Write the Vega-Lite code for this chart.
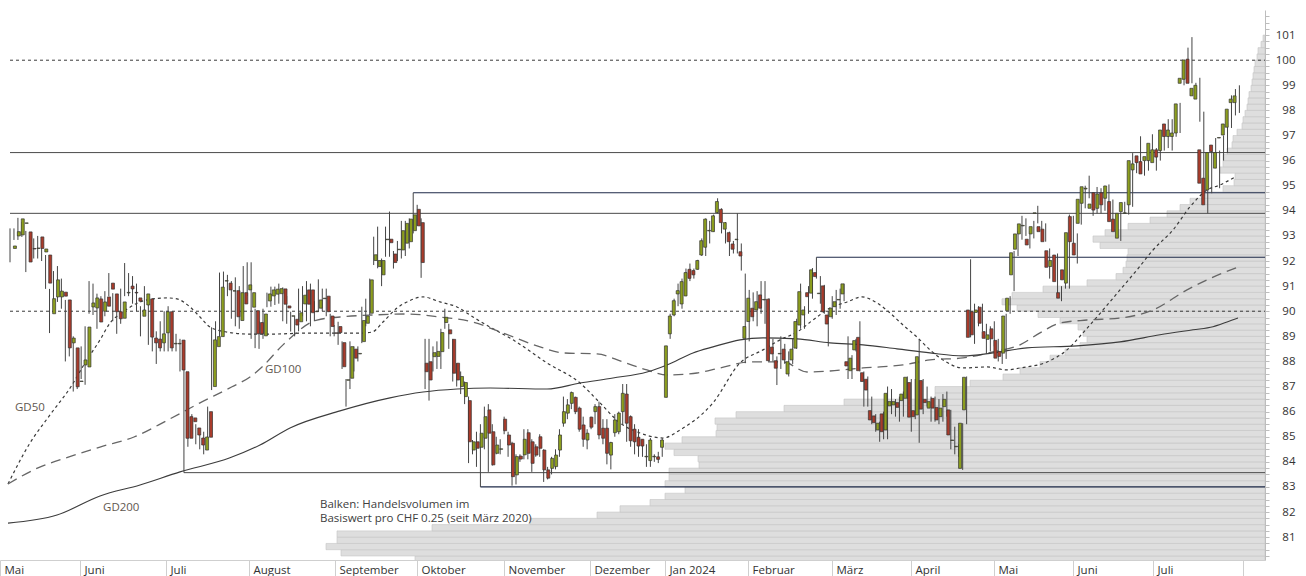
{
"$schema":"https://vega.github.io/schema/vega-lite/v6.json",
"autosize":"none",
"width":1265,"height":550,
"padding":{"left":0,"top":10,"right":41,"bottom":16},
"background":"#ffffff",
"config":{"view":{"stroke":null},"font":"Open Sans"},
"datasets":{
"volumen":[
{"p":80.0,"p2":80.25,"v":850},{"p":80.25,"p2":80.5,"v":924},{"p":80.5,"p2":80.75,"v":939},{"p":80.75,"p2":81.0,"v":928},{"p":81.0,"p2":81.25,"v":928},{"p":81.25,"p2":81.5,"v":833},{"p":81.5,"p2":81.75,"v":735},{"p":81.75,"p2":82.0,"v":668},{"p":82.0,"p2":82.25,"v":645},{"p":82.25,"p2":82.5,"v":615},{"p":82.5,"p2":82.75,"v":600},{"p":82.75,"p2":83.0,"v":580},{"p":83.0,"p2":83.25,"v":600},{"p":83.25,"p2":83.5,"v":596},{"p":83.5,"p2":83.75,"v":596},{"p":83.75,"p2":84.0,"v":566},{"p":84.0,"p2":84.25,"v":567},{"p":84.25,"p2":84.5,"v":591},{"p":84.5,"p2":84.75,"v":600},{"p":84.75,"p2":85.0,"v":583},{"p":85.0,"p2":85.25,"v":549},{"p":85.25,"p2":85.5,"v":548},{"p":85.5,"p2":85.75,"v":550},{"p":85.75,"p2":86.0,"v":529},{"p":86.0,"p2":86.25,"v":481},{"p":86.25,"p2":86.5,"v":421},{"p":86.5,"p2":86.75,"v":330},{"p":86.75,"p2":87.0,"v":330},{"p":87.0,"p2":87.25,"v":295},{"p":87.25,"p2":87.5,"v":262},{"p":87.5,"p2":87.75,"v":245},{"p":87.75,"p2":88.0,"v":225},{"p":88.0,"p2":88.25,"v":215},{"p":88.25,"p2":88.5,"v":200},{"p":88.5,"p2":88.75,"v":185},{"p":88.75,"p2":89.0,"v":178},{"p":89.0,"p2":89.25,"v":182},{"p":89.25,"p2":89.5,"v":187},{"p":89.5,"p2":89.75,"v":205},{"p":89.75,"p2":90.0,"v":227},{"p":90.0,"p2":90.25,"v":248},{"p":90.25,"p2":90.5,"v":263},{"p":90.5,"p2":90.75,"v":253},{"p":90.75,"p2":91.0,"v":222},{"p":91.0,"p2":91.25,"v":178},{"p":91.25,"p2":91.5,"v":149},{"p":91.5,"p2":91.75,"v":142},{"p":91.75,"p2":92.0,"v":139},{"p":92.0,"p2":92.25,"v":138},{"p":92.25,"p2":92.5,"v":137},{"p":92.5,"p2":92.75,"v":165},{"p":92.75,"p2":93.0,"v":172},{"p":93.0,"p2":93.25,"v":160},{"p":93.25,"p2":93.5,"v":137},{"p":93.5,"p2":93.75,"v":115},{"p":93.75,"p2":94.0,"v":98},{"p":94.0,"p2":94.25,"v":85},{"p":94.25,"p2":94.5,"v":75},{"p":94.5,"p2":94.75,"v":62},{"p":94.75,"p2":95.0,"v":42},{"p":95.0,"p2":95.25,"v":31},{"p":95.25,"p2":95.5,"v":30},{"p":95.5,"p2":95.75,"v":45},{"p":95.75,"p2":96.0,"v":42},{"p":96.0,"p2":96.25,"v":42},{"p":96.25,"p2":96.5,"v":38},{"p":96.5,"p2":96.75,"v":33},{"p":96.75,"p2":97.0,"v":32},{"p":97.0,"p2":97.25,"v":28},{"p":97.25,"p2":97.5,"v":23},{"p":97.5,"p2":97.75,"v":22},{"p":97.75,"p2":98.0,"v":20},{"p":98.0,"p2":98.25,"v":18},{"p":98.25,"p2":98.5,"v":17},{"p":98.5,"p2":98.75,"v":16},{"p":98.75,"p2":99.0,"v":14},{"p":99.0,"p2":99.25,"v":13},{"p":99.25,"p2":99.5,"v":12},{"p":99.5,"p2":99.75,"v":11},{"p":99.75,"p2":100.0,"v":10},{"p":100.0,"p2":100.25,"v":8},{"p":100.25,"p2":100.5,"v":7},{"p":100.5,"p2":100.75,"v":4},{"p":100.75,"p2":101.0,"v":2}
],
"linien":[
{"p":100,"t1":0,"t2":317.48,"art":"rund"},{"p":90,"t1":0,"t2":317.48,"art":"rund"},
{"p":96.32,"t1":0,"t2":317.48,"art":"primär"},{"p":93.9,"t1":0,"t2":317.48,"art":"primär"},{"p":83.57,"t1":44,"t2":317.48,"art":"primär"},
{"p":94.72,"t1":102,"t2":317.48,"art":"sekundär"},{"p":92.15,"t1":204,"t2":317.48,"art":"sekundär"},{"p":83.0,"t1":119,"t2":317.48,"art":"sekundär"}
],
"gd":[
{"ma":"GD50","t":-0.51,"v":83.12},{"ma":"GD50","t":5.06,"v":84.75},{"ma":"GD50","t":10.12,"v":85.87},{"ma":"GD50","t":15.68,"v":87.06},{"ma":"GD50","t":18.97,"v":87.94},{"ma":"GD50","t":22.77,"v":88.86},{"ma":"GD50","t":25.3,"v":89.53},{"ma":"GD50","t":28.59,"v":89.97},{"ma":"GD50","t":32.89,"v":90.37},{"ma":"GD50","t":36.17,"v":90.49},{"ma":"GD50","t":39.72,"v":90.53},{"ma":"GD50","t":42.25,"v":90.49},{"ma":"GD50","t":45.54,"v":90.17},{"ma":"GD50","t":48.07,"v":89.77},{"ma":"GD50","t":50.6,"v":89.37},{"ma":"GD50","t":54.9,"v":89.17},{"ma":"GD50","t":60.71,"v":89.09},{"ma":"GD50","t":66.53,"v":89.09},{"ma":"GD50","t":75.13,"v":89.13},{"ma":"GD50","t":83.48,"v":89.13},{"ma":"GD50","t":88.54,"v":89.13},{"ma":"GD50","t":91.58,"v":89.17},{"ma":"GD50","t":94.36,"v":89.57},{"ma":"GD50","t":97.9,"v":90.13},{"ma":"GD50","t":100.43,"v":90.37},{"ma":"GD50","t":104.48,"v":90.57},{"ma":"GD50","t":108.78,"v":90.37},{"ma":"GD50","t":113.08,"v":90.17},{"ma":"GD50","t":117.13,"v":89.77},{"ma":"GD50","t":121.43,"v":89.37},{"ma":"GD50","t":127.24,"v":88.86},{"ma":"GD50","t":135.85,"v":87.94},{"ma":"GD50","t":144.19,"v":87.14},{"ma":"GD50","t":149.25,"v":86.35},{"ma":"GD50","t":154.31,"v":85.55},{"ma":"GD50","t":159.37,"v":85.15},{"ma":"GD50","t":165.19,"v":84.95},{"ma":"GD50","t":169.49,"v":85.27},{"ma":"GD50","t":177.84,"v":86.35},{"ma":"GD50","t":184.67,"v":87.94},{"ma":"GD50","t":190.49,"v":88.46},{"ma":"GD50","t":194.79,"v":88.86},{"ma":"GD50","t":199.09,"v":89.17},{"ma":"GD50","t":203.14,"v":89.65},{"ma":"GD50","t":207.44,"v":90.13},{"ma":"GD50","t":211.74,"v":90.37},{"ma":"GD50","t":215.53,"v":90.57},{"ma":"GD50","t":219.33,"v":90.33},{"ma":"GD50","t":222.62,"v":89.93},{"ma":"GD50","t":225.91,"v":89.45},{"ma":"GD50","t":229.45,"v":88.97},{"ma":"GD50","t":232.74,"v":88.46},{"ma":"GD50","t":236.02,"v":88.06},{"ma":"GD50","t":241.08,"v":87.74},{"ma":"GD50","t":247.15,"v":87.78},{"ma":"GD50","t":252.21,"v":87.66},{"ma":"GD50","t":255.5,"v":87.74},{"ma":"GD50","t":262.33,"v":87.98},{"ma":"GD50","t":267.39,"v":88.46},{"ma":"GD50","t":271.44,"v":89.14},{"ma":"GD50","t":276.5,"v":90.05},{"ma":"GD50","t":280.8,"v":90.85},{"ma":"GD50","t":285.11,"v":91.65},{"ma":"GD50","t":289.15,"v":92.44},{"ma":"GD50","t":294.21,"v":93.24},{"ma":"GD50","t":298.51,"v":94.16},{"ma":"GD50","t":302.81,"v":94.83},{"ma":"GD50","t":306.1,"v":95.03},{"ma":"GD50","t":309.89,"v":95.35},
{"ma":"GD100","t":-0.51,"v":83.12},{"ma":"GD100","t":7.08,"v":83.76},{"ma":"GD100","t":14.93,"v":84.2},{"ma":"GD100","t":22.77,"v":84.59},{"ma":"GD100","t":31.37,"v":84.99},{"ma":"GD100","t":39.97,"v":85.67},{"ma":"GD100","t":48.07,"v":86.35},{"ma":"GD100","t":56.17,"v":86.99},{"ma":"GD100","t":60.71,"v":87.38},{"ma":"GD100","t":63.75,"v":87.78},{"ma":"GD100","t":69.06,"v":88.66},{"ma":"GD100","t":77.66,"v":89.65},{"ma":"GD100","t":83.48,"v":89.77},{"ma":"GD100","t":91.83,"v":89.85},{"ma":"GD100","t":100.43,"v":89.89},{"ma":"GD100","t":108.78,"v":89.77},{"ma":"GD100","t":117.13,"v":89.57},{"ma":"GD100","t":123.96,"v":89.18},{"ma":"GD100","t":134.08,"v":88.58},{"ma":"GD100","t":139.89,"v":88.34},{"ma":"GD100","t":148.49,"v":88.3},{"ma":"GD100","t":155.07,"v":87.98},{"ma":"GD100","t":161.14,"v":87.66},{"ma":"GD100","t":166.2,"v":87.46},{"ma":"GD100","t":173.79,"v":87.54},{"ma":"GD100","t":179.61,"v":87.74},{"ma":"GD100","t":187.2,"v":87.98},{"ma":"GD100","t":195.55,"v":87.98},{"ma":"GD100","t":201.62,"v":87.58},{"ma":"GD100","t":207.44,"v":87.62},{"ma":"GD100","t":215.79,"v":87.74},{"ma":"GD100","t":220.09,"v":87.78},{"ma":"GD100","t":225.91,"v":87.86},{"ma":"GD100","t":232.74,"v":88.06},{"ma":"GD100","t":241.08,"v":88.14},{"ma":"GD100","t":248.67,"v":88.38},{"ma":"GD100","t":255.5,"v":88.66},{"ma":"GD100","t":260.56,"v":89.14},{"ma":"GD100","t":265.62,"v":89.53},{"ma":"GD100","t":272.45,"v":89.65},{"ma":"GD100","t":280.8,"v":89.73},{"ma":"GD100","t":289.15,"v":90.05},{"ma":"GD100","t":297.75,"v":90.85},{"ma":"GD100","t":302.81,"v":91.25},{"ma":"GD100","t":310.65,"v":91.76},
{"ma":"GD200","t":-0.51,"v":81.56},{"ma":"GD200","t":11.89,"v":81.88},{"ma":"GD200","t":22.77,"v":82.64},{"ma":"GD200","t":32.89,"v":83.08},{"ma":"GD200","t":43.01,"v":83.6},{"ma":"GD200","t":55.65,"v":84.16},{"ma":"GD200","t":63.24,"v":84.67},{"ma":"GD200","t":70.83,"v":85.35},{"ma":"GD200","t":83.48,"v":86.03},{"ma":"GD200","t":96.13,"v":86.55},{"ma":"GD200","t":104.48,"v":86.78},{"ma":"GD200","t":113.08,"v":86.9},{"ma":"GD200","t":121.43,"v":86.94},{"ma":"GD200","t":135.85,"v":86.9},{"ma":"GD200","t":144.19,"v":87.14},{"ma":"GD200","t":152.54,"v":87.34},{"ma":"GD200","t":161.14,"v":87.58},{"ma":"GD200","t":166.2,"v":87.86},{"ma":"GD200","t":172.78,"v":88.34},{"ma":"GD200","t":177.84,"v":88.58},{"ma":"GD200","t":184.67,"v":88.86},{"ma":"GD200","t":190.49,"v":88.94},{"ma":"GD200","t":199.09,"v":88.9},{"ma":"GD200","t":207.44,"v":88.74},{"ma":"GD200","t":215.79,"v":88.66},{"ma":"GD200","t":224.39,"v":88.5},{"ma":"GD200","t":232.74,"v":88.34},{"ma":"GD200","t":241.08,"v":88.22},{"ma":"GD200","t":248.67,"v":88.34},{"ma":"GD200","t":257.27,"v":88.54},{"ma":"GD200","t":269.92,"v":88.62},{"ma":"GD200","t":280.8,"v":88.78},{"ma":"GD200","t":290.92,"v":89.06},{"ma":"GD200","t":299.27,"v":89.26},{"ma":"GD200","t":304.33,"v":89.38},{"ma":"GD200","t":307.87,"v":89.57},{"ma":"GD200","t":310.65,"v":89.73}
],
"texte":[
{"t":1.26,"p":86.15,"text":"GD50","art":"gd"},{"t":64.5,"p":87.66,"text":"GD100","art":"gd"},{"t":23.53,"p":82.16,"text":"GD200","art":"gd"},
{"t":78.42,"p":82.28,"text":"Balken: Handelsvolumen im","art":"hinweis"},{"t":78.42,"p":81.71,"text":"Basiswert pro CHF 0.25 (seit März 2020)","art":"hinweis"}
],
"kerzen":[
{"t":0,"o":92.5,"h":93.3,"l":91.95,"c":92.6},{"t":1,"o":93.0,"h":93.3,"l":92.84,"c":93.17},{"t":2,"o":93.04,"h":93.72,"l":92.84,"c":93.68},{"t":3,"o":93.5,"h":93.56,"l":92.96,"c":93.52},{"t":4,"o":93.16,"h":93.2,"l":91.56,"c":91.96},{"t":5,"o":92.5,"h":93.0,"l":92.0,"c":92.48},{"t":6,"o":92.5,"h":92.9,"l":92.1,"c":92.52},{"t":7,"o":92.96,"h":93.0,"l":92.1,"c":92.5},{"t":8,"o":92.36,"h":92.8,"l":92.0,"c":92.48},{"t":9,"o":92.24,"h":92.24,"l":90.89,"c":91.12},
{"t":10,"o":89.9,"h":90.89,"l":89.13,"c":90.5},{"t":11,"o":90.57,"h":91.6,"l":90.13,"c":91.25},{"t":12,"o":90.57,"h":91.8,"l":90.37,"c":90.8},{"t":13,"o":90.76,"h":91.3,"l":90.1,"c":90.6},{"t":14,"o":90.45,"h":90.45,"l":88.0,"c":88.54},{"t":15,"o":88.74,"h":89.4,"l":88.2,"c":88.93},{"t":16,"o":88.54,"h":89.0,"l":86.8,"c":86.99},{"t":17,"o":87.2,"h":87.7,"l":86.9,"c":87.22},{"t":18,"o":87.86,"h":88.6,"l":87.3,"c":88.06},{"t":19,"o":87.78,"h":89.4,"l":87.07,"c":89.37},
{"t":20,"o":90.17,"h":91.2,"l":89.9,"c":90.33},{"t":21,"o":90.13,"h":91.1,"l":89.85,"c":90.53},{"t":22,"o":90.49,"h":90.7,"l":89.3,"c":89.57},{"t":23,"o":90.0,"h":90.6,"l":89.7,"c":90.37},{"t":24,"o":90.57,"h":90.8,"l":89.8,"c":90.2},{"t":25,"o":91.12,"h":91.52,"l":90.6,"c":90.88},{"t":26,"o":90.69,"h":90.72,"l":89.6,"c":89.98},{"t":27,"o":89.98,"h":90.4,"l":89.1,"c":89.7},{"t":28,"o":89.72,"h":90.9,"l":89.5,"c":90.37},{"t":29,"o":90.73,"h":91.92,"l":90.6,"c":90.75},
{"t":30,"o":91.0,"h":91.52,"l":90.6,"c":90.89},{"t":31,"o":90.75,"h":91.4,"l":90.3,"c":90.73},{"t":32,"o":90.53,"h":91.1,"l":90.0,"c":90.4},{"t":33,"o":89.8,"h":90.2,"l":89.0,"c":90.05},{"t":34,"o":90.25,"h":91.0,"l":90.0,"c":90.69},{"t":35,"o":90.49,"h":90.5,"l":88.66,"c":88.97},{"t":36,"o":88.93,"h":89.3,"l":88.4,"c":88.74},{"t":37,"o":88.89,"h":89.2,"l":87.9,"c":88.54},{"t":38,"o":88.74,"h":89.6,"l":88.4,"c":89.1},{"t":39,"o":89.14,"h":90.0,"l":88.4,"c":89.98},
{"t":40,"o":89.98,"h":90.2,"l":88.4,"c":88.54},{"t":41,"o":88.7,"h":89.5,"l":88.4,"c":88.72},{"t":42,"o":88.7,"h":89.1,"l":88.4,"c":88.72},{"t":43,"o":88.85,"h":88.9,"l":87.6,"c":87.66},{"t":44,"o":87.59,"h":87.99,"l":83.57,"c":84.94},{"t":45,"o":85.8,"h":86.07,"l":84.6,"c":84.94},{"t":46,"o":85.75,"h":85.9,"l":85.1,"c":85.6},{"t":47,"o":85.35,"h":85.5,"l":84.7,"c":85.07},{"t":48,"o":84.95,"h":85.1,"l":84.5,"c":84.67},{"t":49,"o":84.47,"h":85.2,"l":84.3,"c":84.99},
{"t":50,"o":86.0,"h":86.2,"l":84.9,"c":84.98},{"t":51,"o":87.0,"h":89.36,"l":86.86,"c":88.86},{"t":52,"o":88.59,"h":89.6,"l":88.3,"c":88.99},{"t":53,"o":88.99,"h":91.54,"l":88.99,"c":90.96},{"t":54,"o":91.2,"h":91.58,"l":90.85,"c":91.22},{"t":55,"o":91.12,"h":91.45,"l":90.6,"c":90.85},{"t":56,"o":90.8,"h":91.2,"l":89.7,"c":90.82},{"t":57,"o":90.82,"h":91.35,"l":89.4,"c":89.78},{"t":58,"o":89.63,"h":91.0,"l":89.3,"c":90.74},{"t":59,"o":90.74,"h":91.8,"l":89.9,"c":90.29},
{"t":60,"o":90.85,"h":91.95,"l":90.6,"c":91.05},{"t":61,"o":90.16,"h":91.95,"l":88.9,"c":90.74},{"t":62,"o":90.02,"h":90.1,"l":88.53,"c":89.1},{"t":63,"o":89.55,"h":89.6,"l":88.5,"c":89.1},{"t":64,"o":89.02,"h":90.1,"l":88.9,"c":89.89},{"t":65,"o":90.41,"h":90.74,"l":90.16,"c":90.69},{"t":66,"o":90.61,"h":90.98,"l":90.18,"c":90.85},{"t":67,"o":90.68,"h":90.98,"l":90.25,"c":90.88},{"t":68,"o":90.7,"h":91.1,"l":90.3,"c":90.9},{"t":69,"o":90.89,"h":90.95,"l":89.6,"c":90.28},
{"t":70,"o":90.21,"h":90.6,"l":89.5,"c":90.13},{"t":71,"o":89.8,"h":89.98,"l":89.19,"c":89.82},{"t":72,"o":89.68,"h":89.8,"l":89.0,"c":89.45},{"t":73,"o":89.58,"h":90.9,"l":89.2,"c":89.94},{"t":74,"o":90.29,"h":91.0,"l":89.8,"c":90.64},{"t":75,"o":90.85,"h":91.2,"l":89.6,"c":90.28},{"t":76,"o":90.85,"h":91.1,"l":89.4,"c":89.94},{"t":77,"o":89.98,"h":90.4,"l":89.6,"c":90.0},{"t":78,"o":90.12,"h":91.27,"l":90.0,"c":90.45},{"t":79,"o":90.5,"h":90.9,"l":90.0,"c":90.52},
{"t":80,"o":90.6,"h":90.9,"l":89.8,"c":89.98},{"t":81,"o":89.81,"h":89.9,"l":89.0,"c":89.39},{"t":82,"o":89.14,"h":89.45,"l":89.0,"c":89.12},{"t":83,"o":89.39,"h":89.58,"l":88.66,"c":89.15},{"t":84,"o":88.75,"h":88.8,"l":87.7,"c":87.79},{"t":85,"o":87.25,"h":87.3,"l":86.2,"c":87.27},{"t":86,"o":87.33,"h":88.8,"l":86.9,"c":88.59},{"t":87,"o":88.49,"h":88.6,"l":87.6,"c":88.13},{"t":88,"o":88.3,"h":88.6,"l":88.0,"c":88.32},{"t":89,"o":88.79,"h":90.18,"l":88.73,"c":89.63},
{"t":90,"o":89.52,"h":90.5,"l":89.4,"c":89.81},{"t":91,"o":89.92,"h":91.3,"l":89.85,"c":91.25},{"t":92,"o":92.02,"h":92.97,"l":91.84,"c":92.25},{"t":93,"o":91.78,"h":93.37,"l":91.71,"c":92.02},{"t":94,"o":91.45,"h":92.1,"l":91.0,"c":92.02},{"t":95,"o":92.85,"h":93.37,"l":92.17,"c":92.87},{"t":96,"o":92.87,"h":93.97,"l":92.17,"c":92.73},{"t":97,"o":92.28,"h":92.4,"l":91.7,"c":91.94},{"t":98,"o":92.45,"h":92.8,"l":92.0,"c":92.47},{"t":99,"o":92.44,"h":93.6,"l":92.1,"c":93.21},
{"t":100,"o":92.71,"h":93.6,"l":92.2,"c":93.5},{"t":101,"o":92.77,"h":93.7,"l":92.5,"c":93.67},{"t":102,"o":93.21,"h":94.72,"l":93.1,"c":93.84},{"t":103,"o":94.06,"h":94.24,"l":93.4,"c":93.4},{"t":104,"o":93.53,"h":93.7,"l":91.33,"c":91.94},{"t":105,"o":87.93,"h":88.9,"l":86.9,"c":87.59},{"t":106,"o":87.99,"h":88.9,"l":86.44,"c":87.26},{"t":107,"o":88.19,"h":88.6,"l":87.6,"c":88.35},{"t":108,"o":88.2,"h":88.8,"l":87.7,"c":88.4},{"t":109,"o":88.39,"h":89.3,"l":87.7,"c":89.15},
{"t":110,"o":89.55,"h":90.1,"l":89.3,"c":89.76},{"t":111,"o":89.26,"h":89.5,"l":88.5,"c":89.1},{"t":112,"o":88.88,"h":88.9,"l":87.2,"c":87.53},{"t":113,"o":87.93,"h":87.93,"l":87.0,"c":87.26},{"t":114,"o":87.0,"h":87.6,"l":86.7,"c":87.4},{"t":115,"o":86.6,"h":87.2,"l":86.3,"c":87.16},{"t":116,"o":86.44,"h":86.6,"l":83.95,"c":84.8},{"t":117,"o":84.47,"h":84.87,"l":84.3,"c":84.8},{"t":118,"o":84.8,"h":85.2,"l":83.8,"c":84.54},{"t":119,"o":84.58,"h":85.5,"l":83.0,"c":85.14},
{"t":120,"o":84.94,"h":86.2,"l":84.5,"c":85.8},{"t":121,"o":86.07,"h":86.3,"l":83.6,"c":85.14},{"t":122,"o":85.2,"h":85.5,"l":83.85,"c":83.88},{"t":123,"o":84.34,"h":85.0,"l":84.3,"c":84.67},{"t":124,"o":84.5,"h":84.9,"l":84.3,"c":84.52},{"t":125,"o":85.7,"h":85.8,"l":85.1,"c":85.24},{"t":126,"o":85.07,"h":85.2,"l":84.2,"c":84.67},{"t":127,"o":84.74,"h":84.8,"l":83.05,"c":83.41},{"t":128,"o":83.48,"h":84.3,"l":83.1,"c":84.21},{"t":129,"o":84.23,"h":84.3,"l":84.0,"c":84.11},
{"t":130,"o":84.28,"h":85.3,"l":84.1,"c":84.9},{"t":131,"o":85.16,"h":85.3,"l":84.1,"c":84.34},{"t":132,"o":84.8,"h":84.9,"l":83.6,"c":83.94},{"t":133,"o":84.6,"h":84.7,"l":84.2,"c":84.27},{"t":134,"o":85.0,"h":85.1,"l":84.2,"c":84.54},{"t":135,"o":84.47,"h":84.5,"l":83.2,"c":83.68},{"t":136,"o":83.68,"h":83.8,"l":83.3,"c":83.35},{"t":137,"o":83.74,"h":84.2,"l":83.5,"c":84.14},{"t":138,"o":83.81,"h":84.5,"l":83.7,"c":84.27},{"t":139,"o":84.47,"h":85.3,"l":84.2,"c":85.07},
{"t":140,"o":85.54,"h":86.6,"l":85.4,"c":86.0},{"t":141,"o":85.94,"h":86.5,"l":85.7,"c":86.27},{"t":142,"o":86.33,"h":86.8,"l":86.1,"c":86.76},{"t":143,"o":86.57,"h":86.6,"l":85.9,"c":86.0},{"t":144,"o":86.14,"h":86.2,"l":85.2,"c":85.3},{"t":145,"o":85.47,"h":85.8,"l":84.6,"c":84.9},{"t":146,"o":84.87,"h":85.3,"l":84.5,"c":85.14},{"t":147,"o":85.78,"h":85.8,"l":85.3,"c":85.38},{"t":148,"o":86.0,"h":86.3,"l":85.5,"c":86.2},{"t":149,"o":86.2,"h":86.4,"l":84.9,"c":85.07},
{"t":150,"o":85.34,"h":85.7,"l":84.7,"c":84.94},{"t":151,"o":85.34,"h":85.7,"l":83.9,"c":84.34},{"t":152,"o":84.27,"h":84.8,"l":83.7,"c":84.77},{"t":153,"o":85.16,"h":85.9,"l":85.0,"c":85.67},{"t":154,"o":85.2,"h":86.0,"l":85.1,"c":85.94},{"t":155,"o":86.0,"h":87.1,"l":85.5,"c":86.73},{"t":156,"o":86.7,"h":87.1,"l":84.8,"c":85.54},{"t":157,"o":85.8,"h":85.85,"l":84.6,"c":84.84},{"t":158,"o":85.3,"h":85.5,"l":84.3,"c":84.8},{"t":159,"o":84.98,"h":85.3,"l":84.2,"c":84.63},
{"t":160,"o":84.9,"h":84.9,"l":84.2,"c":84.63},{"t":161,"o":84.2,"h":84.7,"l":83.8,"c":84.22},{"t":162,"o":84.05,"h":84.95,"l":83.8,"c":84.87},{"t":163,"o":84.2,"h":84.3,"l":84.0,"c":84.22},{"t":164,"o":84.2,"h":84.4,"l":83.95,"c":84.1},{"t":165,"o":84.58,"h":84.95,"l":84.2,"c":84.87},{"t":166,"o":86.57,"h":88.62,"l":86.57,"c":88.62},{"t":167,"o":89.1,"h":89.9,"l":88.9,"c":89.81},{"t":168,"o":89.85,"h":90.5,"l":89.8,"c":90.42},{"t":169,"o":90.69,"h":91.1,"l":90.2,"c":90.82},
{"t":170,"o":90.29,"h":91.3,"l":90.1,"c":91.18},{"t":171,"o":90.61,"h":91.7,"l":90.6,"c":91.54},{"t":172,"o":91.67,"h":91.9,"l":91.2,"c":91.31},{"t":173,"o":91.62,"h":91.7,"l":91.3,"c":91.45},{"t":174,"o":91.67,"h":92.05,"l":91.65,"c":92.02},{"t":175,"o":92.24,"h":92.9,"l":92.2,"c":92.81},{"t":176,"o":92.55,"h":93.7,"l":92.2,"c":93.67},{"t":177,"o":93.2,"h":93.6,"l":92.7,"c":93.22},{"t":178,"o":93.17,"h":93.85,"l":93.17,"c":93.8},{"t":179,"o":93.93,"h":94.5,"l":93.9,"c":94.37},
{"t":180,"o":94.06,"h":94.1,"l":93.1,"c":93.53},{"t":181,"o":93.27,"h":93.55,"l":92.7,"c":93.53},{"t":182,"o":93.13,"h":93.17,"l":92.2,"c":92.77},{"t":183,"o":92.68,"h":92.8,"l":92.3,"c":92.47},{"t":184,"o":92.85,"h":93.9,"l":92.3,"c":92.87},{"t":185,"o":92.37,"h":92.7,"l":91.62,"c":92.2},{"t":186,"o":88.92,"h":91.5,"l":87.93,"c":89.39},{"t":187,"o":89.59,"h":90.85,"l":88.8,"c":90.52},{"t":188,"o":90.12,"h":90.75,"l":89.6,"c":89.78},{"t":189,"o":90.05,"h":90.8,"l":89.4,"c":90.38},
{"t":190,"o":90.65,"h":91.2,"l":89.9,"c":90.12},{"t":191,"o":90.45,"h":91.2,"l":89.5,"c":90.47},{"t":192,"o":90.48,"h":90.52,"l":87.99,"c":88.03},{"t":193,"o":88.57,"h":88.9,"l":88.0,"c":88.3},{"t":194,"o":88.03,"h":88.2,"l":87.06,"c":87.73},{"t":195,"o":88.3,"h":89.0,"l":87.7,"c":88.32},{"t":196,"o":88.49,"h":88.7,"l":87.9,"c":88.06},{"t":197,"o":87.5,"h":88.4,"l":87.4,"c":87.99},{"t":198,"o":88.06,"h":88.9,"l":87.9,"c":88.49},{"t":199,"o":88.53,"h":89.7,"l":88.5,"c":89.59},
{"t":200,"o":89.45,"h":91.1,"l":89.3,"c":90.78},{"t":201,"o":89.85,"h":90.2,"l":89.3,"c":90.05},{"t":202,"o":90.74,"h":91.0,"l":89.9,"c":90.58},{"t":203,"o":90.72,"h":91.72,"l":90.5,"c":91.65},{"t":204,"o":91.54,"h":92.15,"l":91.3,"c":91.38},{"t":205,"o":90.7,"h":91.4,"l":90.3,"c":90.72},{"t":206,"o":91.01,"h":91.05,"l":89.9,"c":89.98},{"t":207,"o":89.85,"h":90.0,"l":88.6,"c":89.49},{"t":208,"o":89.78,"h":90.6,"l":89.7,"c":90.12},{"t":209,"o":90.18,"h":90.85,"l":89.85,"c":90.38},
{"t":210,"o":90.45,"h":90.9,"l":90.1,"c":90.47},{"t":211,"o":90.69,"h":91.1,"l":90.4,"c":91.09},{"t":212,"o":87.99,"h":89.0,"l":87.3,"c":87.82},{"t":213,"o":87.63,"h":88.25,"l":87.3,"c":88.13},{"t":214,"o":88.46,"h":88.9,"l":88.4,"c":88.83},{"t":215,"o":88.96,"h":89.6,"l":87.6,"c":87.63},{"t":216,"o":87.55,"h":87.6,"l":86.2,"c":87.2},{"t":217,"o":87.29,"h":87.4,"l":86.2,"c":86.86},{"t":218,"o":86.04,"h":86.6,"l":85.5,"c":85.67},{"t":219,"o":85.83,"h":85.9,"l":85.2,"c":85.56},
{"t":220,"o":85.27,"h":85.6,"l":84.8,"c":85.54},{"t":221,"o":85.91,"h":86.0,"l":84.9,"c":85.2},{"t":222,"o":85.27,"h":87.0,"l":84.9,"c":86.73},{"t":223,"o":86.23,"h":86.9,"l":85.9,"c":86.4},{"t":224,"o":86.27,"h":86.5,"l":85.8,"c":86.4},{"t":225,"o":86.36,"h":86.6,"l":85.6,"c":86.17},{"t":226,"o":86.44,"h":86.8,"l":85.8,"c":86.7},{"t":227,"o":86.53,"h":87.4,"l":86.5,"c":87.37},{"t":228,"o":87.16,"h":87.3,"l":85.2,"c":85.78},{"t":229,"o":86.04,"h":87.3,"l":85.7,"c":85.8},
{"t":230,"o":85.87,"h":88.88,"l":84.76,"c":88.19},{"t":231,"o":87.24,"h":87.3,"l":85.9,"c":86.1},{"t":232,"o":86.49,"h":87.0,"l":86.2,"c":86.36},{"t":233,"o":86.14,"h":86.6,"l":85.6,"c":86.4},{"t":234,"o":86.53,"h":86.6,"l":85.6,"c":86.14},{"t":235,"o":86.17,"h":86.5,"l":85.5,"c":85.67},{"t":236,"o":85.8,"h":86.7,"l":85.6,"c":86.14},{"t":237,"o":86.2,"h":86.8,"l":85.8,"c":86.49},{"t":238,"o":86.07,"h":86.07,"l":84.5,"c":85.07},{"t":239,"o":84.85,"h":85.4,"l":84.3,"c":84.87},
{"t":240,"o":84.6,"h":84.7,"l":84.2,"c":84.62},{"t":241,"o":83.74,"h":85.54,"l":83.68,"c":85.54},{"t":242,"o":86.07,"h":87.4,"l":85.5,"c":87.37},{"t":243,"o":90.05,"h":92.07,"l":88.96,"c":88.96},{"t":244,"o":89.98,"h":90.3,"l":88.7,"c":89.06},{"t":245,"o":89.95,"h":90.2,"l":89.4,"c":90.05},{"t":246,"o":90.16,"h":90.3,"l":89.2,"c":89.52},{"t":247,"o":89.19,"h":89.5,"l":88.3,"c":88.92},{"t":248,"o":88.88,"h":89.4,"l":88.4,"c":89.06},{"t":249,"o":89.3,"h":89.6,"l":88.6,"c":88.9},
{"t":250,"o":88.84,"h":88.9,"l":88.0,"c":88.13},{"t":251,"o":88.4,"h":88.5,"l":87.9,"c":88.2},{"t":252,"o":88.33,"h":89.9,"l":88.1,"c":89.81},{"t":253,"o":90.02,"h":90.6,"l":89.9,"c":90.52},{"t":254,"o":91.45,"h":92.4,"l":90.8,"c":92.33},{"t":255,"o":92.47,"h":93.2,"l":92.2,"c":93.08},{"t":256,"o":93.08,"h":93.8,"l":92.85,"c":93.48},{"t":257,"o":93.4,"h":93.7,"l":93.0,"c":93.42},{"t":258,"o":92.87,"h":93.2,"l":92.5,"c":92.64},{"t":259,"o":93.08,"h":93.6,"l":92.9,"c":93.37},
{"t":260,"o":93.9,"h":94.2,"l":93.5,"c":93.92},{"t":261,"o":93.37,"h":93.6,"l":93.0,"c":93.17},{"t":262,"o":93.27,"h":93.5,"l":92.77,"c":92.77},{"t":263,"o":92.41,"h":92.5,"l":91.3,"c":91.75},{"t":264,"o":91.78,"h":92.1,"l":91.6,"c":92.02},{"t":265,"o":92.24,"h":92.3,"l":90.68,"c":91.18},{"t":266,"o":90.74,"h":91.0,"l":90.4,"c":90.52},{"t":267,"o":91.65,"h":91.85,"l":90.9,"c":91.25},{"t":268,"o":91.12,"h":93.85,"l":90.9,"c":93.13},{"t":269,"o":93.77,"h":93.8,"l":92.6,"c":92.77},
{"t":270,"o":92.71,"h":93.1,"l":91.9,"c":92.24},{"t":271,"o":93.5,"h":94.55,"l":93.45,"c":94.46},{"t":272,"o":94.3,"h":95.0,"l":94.1,"c":94.96},{"t":273,"o":94.87,"h":95.4,"l":94.5,"c":94.9},{"t":274,"o":94.1,"h":94.75,"l":93.8,"c":94.27},{"t":275,"o":94.72,"h":94.95,"l":93.9,"c":94.03},{"t":276,"o":94.1,"h":94.9,"l":93.9,"c":94.67},{"t":277,"o":94.72,"h":95.0,"l":94.0,"c":94.24},{"t":278,"o":94.5,"h":95.05,"l":94.3,"c":94.99},{"t":279,"o":94.37,"h":94.45,"l":93.2,"c":93.57},
{"t":280,"o":93.67,"h":93.7,"l":93.1,"c":93.17},{"t":281,"o":92.91,"h":93.95,"l":92.8,"c":93.9},{"t":282,"o":93.97,"h":94.36,"l":93.9,"c":94.33},{"t":283,"o":93.9,"h":94.7,"l":93.85,"c":93.92},{"t":284,"o":94.24,"h":96.3,"l":94.16,"c":96.0},{"t":285,"o":95.63,"h":95.95,"l":95.5,"c":95.87},{"t":286,"o":96.19,"h":96.97,"l":95.5,"c":95.92},{"t":287,"o":95.96,"h":96.0,"l":95.4,"c":95.47},{"t":288,"o":96.0,"h":96.4,"l":95.6,"c":96.16},{"t":289,"o":96.0,"h":97.05,"l":95.95,"c":96.69},
{"t":290,"o":95.92,"h":96.5,"l":95.6,"c":96.43},{"t":291,"o":96.43,"h":96.57,"l":96.0,"c":96.14},{"t":292,"o":96.4,"h":97.3,"l":96.4,"c":97.22},{"t":293,"o":97.46,"h":97.65,"l":96.5,"c":96.96},{"t":294,"o":96.96,"h":97.65,"l":96.4,"c":97.22},{"t":295,"o":96.96,"h":97.12,"l":96.95,"c":97.1},{"t":296,"o":97.1,"h":98.3,"l":97.1,"c":98.26},{"t":297,"o":99.08,"h":99.9,"l":99.0,"c":99.28},{"t":298,"o":99.24,"h":100.5,"l":99.1,"c":100.01},{"t":299,"o":100.04,"h":100.92,"l":99.08,"c":99.08},
{"t":300,"o":98.58,"h":99.1,"l":98.5,"c":98.88},{"t":301,"o":98.45,"h":99.3,"l":97.55,"c":99.0},{"t":302,"o":96.43,"h":97.95,"l":94.7,"c":95.1},{"t":303,"o":95.3,"h":95.4,"l":93.9,"c":94.24},{"t":304,"o":94.83,"h":96.4,"l":94.7,"c":96.32},{"t":305,"o":96.62,"h":96.9,"l":95.7,"c":96.36},{"t":306,"o":95.7,"h":96.4,"l":94.9,"c":96.32},{"t":307,"o":96.9,"h":97.0,"l":96.0,"c":96.92},{"t":308,"o":97.02,"h":97.5,"l":96.3,"c":97.46},{"t":309,"o":97.33,"h":98.6,"l":97.3,"c":98.05},
{"t":310,"o":98.31,"h":98.85,"l":97.8,"c":98.45},{"t":311,"o":98.31,"h":99.0,"l":97.9,"c":98.58}
]
},
"resolve":{"scale":{"x":"independent"},"axis":{"x":"independent","y":"independent"}},
"layer":[
{
"data":{"name":"volumen"},
"mark":{"type":"bar","fill":"#dedede","stroke":"#c4c4c4","strokeWidth":0.6,"clip":true},
"encoding":{
"x":{"field":"v","type":"quantitative","scale":{"domain":[0,1265],"reverse":true,"nice":false,"zero":true},"axis":null},
"x2":{"datum":0},
"y":{"field":"p","type":"quantitative","scale":{"domain":[80.09,102],"nice":false,"zero":false},"axis":null},
"y2":{"field":"p2"}
}
},
{
"data":{"name":"linien"},
"transform":[{"filter":"datum.art === 'rund'"}],
"mark":{"type":"rule","color":"#3a3a3a","strokeWidth":1,"strokeDash":[3,3]},
"encoding":{
"x":{"field":"t1","type":"quantitative","scale":{"domain":[-2.53,317.48],"nice":false,"zero":false},"axis":null},
"x2":{"field":"t2"},
"y":{"field":"p","type":"quantitative","scale":{"domain":[80.09,102],"nice":false,"zero":false},"axis":null}
}
},
{
"data":{"name":"linien"},
"transform":[{"filter":"datum.art === 'primär'"}],
"mark":{"type":"rule","color":"#4a4a4a","strokeWidth":1},
"encoding":{
"x":{"field":"t1","type":"quantitative","scale":{"domain":[-2.53,317.48],"nice":false,"zero":false},"axis":null},
"x2":{"field":"t2"},
"y":{"field":"p","type":"quantitative","scale":{"domain":[80.09,102],"nice":false,"zero":false},"axis":null}
}
},
{
"data":{"name":"linien"},
"transform":[{"filter":"datum.art === 'sekundär'"}],
"mark":{"type":"rule","color":"#1e2a48","strokeWidth":1.2},
"encoding":{
"x":{"field":"t1","type":"quantitative","scale":{"domain":[-2.53,317.48],"nice":false,"zero":false},"axis":null},
"x2":{"field":"t2"},
"y":{"field":"p","type":"quantitative","scale":{"domain":[80.09,102],"nice":false,"zero":false},"axis":null}
}
},
{
"data":{"name":"gd"},
"transform":[{"filter":"datum.ma === 'GD50'"}],
"mark":{"type":"line","interpolate":"monotone","strokeWidth":1.2,"color":"#3a3a3a","strokeDash":[3,3]},
"encoding":{
"x":{"field":"t","type":"quantitative","scale":{"domain":[-2.53,317.48],"nice":false,"zero":false},"axis":null},
"y":{"field":"v","type":"quantitative","scale":{"domain":[80.09,102],"nice":false,"zero":false},"axis":null}
}
},
{
"data":{"name":"gd"},
"transform":[{"filter":"datum.ma === 'GD100'"}],
"mark":{"type":"line","interpolate":"monotone","strokeWidth":1.3,"color":"#666666","strokeDash":[10,6]},
"encoding":{
"x":{"field":"t","type":"quantitative","scale":{"domain":[-2.53,317.48],"nice":false,"zero":false},"axis":null},
"y":{"field":"v","type":"quantitative","scale":{"domain":[80.09,102],"nice":false,"zero":false},"axis":null}
}
},
{
"data":{"name":"gd"},
"transform":[{"filter":"datum.ma === 'GD200'"}],
"mark":{"type":"line","interpolate":"monotone","strokeWidth":1.1,"color":"#3c3c3c"},
"encoding":{
"x":{"field":"t","type":"quantitative","scale":{"domain":[-2.53,317.48],"nice":false,"zero":false},"axis":null},
"y":{"field":"v","type":"quantitative","scale":{"domain":[80.09,102],"nice":false,"zero":false},"axis":null}
}
},
{
"data":{"name":"kerzen"},
"mark":{"type":"rule","color":"#444444","strokeWidth":1},
"encoding":{
"x":{"field":"t","type":"quantitative","scale":{"domain":[-2.53,317.48],"nice":false,"zero":false},
"axis":{"orient":"bottom","title":null,"grid":false,
"values":[-2.53,17.71,39.47,60.46,82.22,102.96,124.97,146.73,165.7,186.7,207.94,227.93,248.92,268.91,289.15,311.91],
"labelExpr":"datum.value < 0 ? 'Mai' : datum.value < 20 ? 'Juni' : datum.value < 40 ? 'Juli' : datum.value < 61 ? 'August' : datum.value < 83 ? 'September' : datum.value < 104 ? 'Oktober' : datum.value < 125 ? 'November' : datum.value < 147 ? 'Dezember' : datum.value < 166 ? 'Jan 2024' : datum.value < 187 ? 'Februar' : datum.value < 208 ? 'März' : datum.value < 228 ? 'April' : datum.value < 249 ? 'Mai' : datum.value < 269 ? 'Juni' : datum.value < 290 ? 'Juli' : ''",
"domainColor":"#cfcfcf","tickColor":"#cfcfcf","tickSize":16,
"labelAlign":"left","labelBaseline":"top","labelPadding":-12,"labelOffset":4,"labelFontSize":11.5,"labelFont":"Open Sans","labelColor":"#333333",
"labelOverlap":false,"labelBound":false,"labelFlush":false}},
"y":{"field":"l","type":"quantitative","scale":{"domain":[80.09,102],"nice":false,"zero":false},
"axis":{"orient":"right","title":null,"grid":false,
"values":[80.25,80.5,80.75,81,81.25,81.5,81.75,82,82.25,82.5,82.75,83,83.25,83.5,83.75,84,84.25,84.5,84.75,85,85.25,85.5,85.75,86,86.25,86.5,86.75,87,87.25,87.5,87.75,88,88.25,88.5,88.75,89,89.25,89.5,89.75,90,90.25,90.5,90.75,91,91.25,91.5,91.75,92,92.25,92.5,92.75,93,93.25,93.5,93.75,94,94.25,94.5,94.75,95,95.25,95.5,95.75,96,96.25,96.5,96.75,97,97.25,97.5,97.75,98,98.25,98.5,98.75,99,99.25,99.5,99.75,100,100.25,100.5,100.75,101,101.25,101.5,101.75],
"labelExpr":"datum.value % 1 === 0 ? format(datum.value, 'd') : ''",
"domainColor":"#bdbdbd","tickColor":"#bdbdbd","tickSize":4,
"labelAlign":"right","labelBaseline":"middle","labelPadding":26,"labelFontSize":11.5,"labelFont":"Open Sans","labelColor":"#333333",
"labelOverlap":false,"labelBound":false,"labelFlush":false}},
"y2":{"field":"h"}
}
},
{
"data":{"name":"kerzen"},
"mark":{"type":"bar","width":3,"stroke":"#333333","strokeWidth":0.7},
"encoding":{
"x":{"field":"t","type":"quantitative","scale":{"domain":[-2.53,317.48],"nice":false,"zero":false},"axis":null},
"y":{"field":"o","type":"quantitative","scale":{"domain":[80.09,102],"nice":false,"zero":false},"axis":null},
"y2":{"field":"c"},
"fill":{"condition":{"test":"datum.c >= datum.o","value":"#8c9e1e"},"value":"#a93b2b"}
}
},
{
"data":{"name":"texte"},
"transform":[{"filter":"datum.art === 'gd'"}],
"mark":{"type":"text","align":"left","baseline":"middle","fontSize":11.5,"font":"Open Sans","color":"#5f5750"},
"encoding":{
"x":{"field":"t","type":"quantitative","scale":{"domain":[-2.53,317.48],"nice":false,"zero":false},"axis":null},
"y":{"field":"p","type":"quantitative","scale":{"domain":[80.09,102],"nice":false,"zero":false},"axis":null},
"text":{"field":"text","type":"nominal"}
}
},
{
"data":{"name":"texte"},
"transform":[{"filter":"datum.art === 'hinweis'"}],
"mark":{"type":"text","align":"left","baseline":"middle","fontSize":11.5,"font":"Open Sans","color":"#404040"},
"encoding":{
"x":{"field":"t","type":"quantitative","scale":{"domain":[-2.53,317.48],"nice":false,"zero":false},"axis":null},
"y":{"field":"p","type":"quantitative","scale":{"domain":[80.09,102],"nice":false,"zero":false},"axis":null},
"text":{"field":"text","type":"nominal"}
}
}
]
}
